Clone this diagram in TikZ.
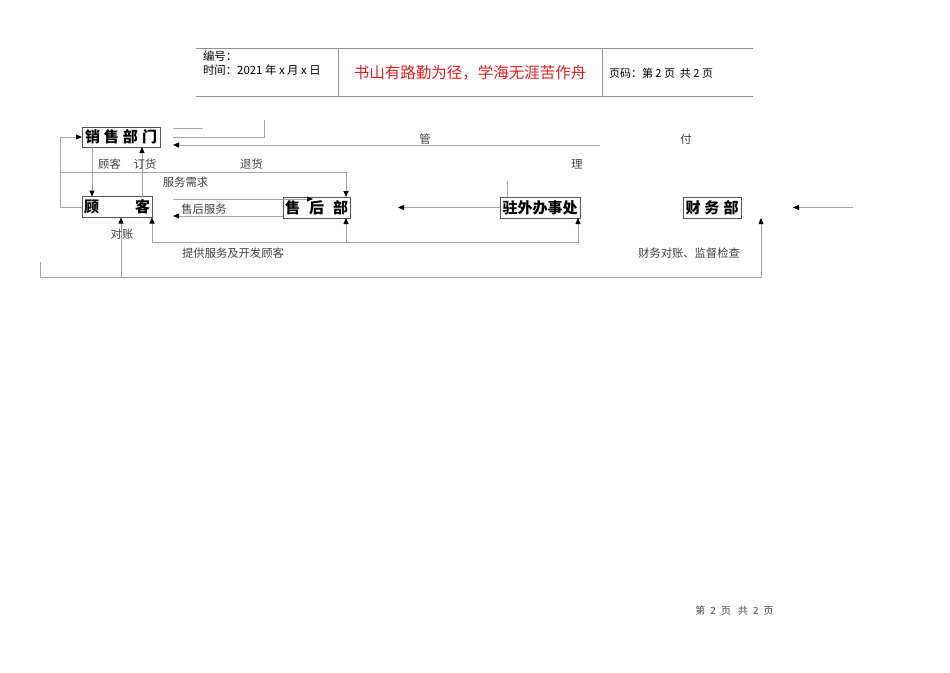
\documentclass[tikz,border=0pt]{standalone}
\usepackage{fontspec}
\newfontfamily\cjk{Noto Sans CJK SC}
\usetikzlibrary{positioning}
\usetikzlibrary{calc}
\usetikzlibrary{arrows.meta}
\definecolor{linegray}{RGB}{165,165,165}
\definecolor{boxgray}{RGB}{85,85,85}
\definecolor{titlered}{RGB}{225,30,30}
\tikzset{
	every node/.style={inner sep=0pt,outer sep=0pt},
	dept/.style={draw=boxgray,line width=0.9pt,minimum height=21pt,font=\cjk\bfseries\fontsize{15}{15}\selectfont},
	lbl/.style={font=\cjk\fontsize{11.3}{11}\selectfont,text=black!75},
	hd/.style={font=\cjk\fontsize{11.4}{11}\selectfont,anchor=west},
	link/.style={draw=linegray,line width=0.8pt},
	arr/.style={link,-{Triangle[black,length=6pt,width=5pt]}},
	rule/.style={draw=gray!85,line width=0.9pt},
}

\begin{document}
\begin{tikzpicture}[x=1pt,y=-1pt]
	\useasboundingbox (0,0) rectangle (950,672);

	% header table..............................
	\draw [rule] (196,48) -- (753,48);
	\draw [rule] (196,96) -- (753,96);
	\draw [rule] (338,48) -- (338,96);
	\draw [rule] (602,48) -- (602,96);
	\node [hd] (bianhao) at (203,56) {编号：};
	\node [hd] (shijian) at (203,70) {时间：2021 年 x 月 x 日};
	\node [font=\cjk\fontsize{15.5}{15.5}\selectfont,text=titlered] (motto) at (470,73) {书山有路勤为径，学海无涯苦作舟};
	\node [hd,font=\cjk\fontsize{11}{11}\selectfont] (yema) at (609,73) {页码：第 2 页\ \ 共 2 页};

	% departments...............................
	\node [dept,minimum width=78pt,minimum height=20pt] (xs) at (121,137) {销\hspace{4pt}售\hspace{4pt}部\hspace{4pt}门};
	\node [dept,minimum width=70pt] (gk) at (117,207) {\makebox[66pt]{顾\hfill 客}};
	\node [dept,minimum width=67pt] (sh) at (316.5,207.5) {售\hspace{9pt}后\hspace{9pt}部};
	\node [dept,minimum width=80pt] (zw) at (540,207.5) {驻外办事处};
	\node [dept,minimum width=58pt] (cw) at (712,207.5) {财\hspace{4pt}务\hspace{4pt}部};

	% free ends and corners.....................
	\coordinate (t1) at (173,128);
	\coordinate (t2) at (264,120);
	\coordinate (mr) at (600,145);
	\coordinate (rt) at (346,172);
	\coordinate (bl) at (152,242);
	\coordinate (br) at (578,242);
	\coordinate (zl) at (398,207.5);
	\coordinate (cr) at (853,207.5);
	\coordinate (cl) at (793,207.5);
	\coordinate (ll) at (40,262);
	\coordinate (lc) at (40,277);
	\coordinate (dz) at ($(gk.south west)+(39,0)$);

	% top lines...............................
	\draw [link] (t1) -- ++(30,0);
	\draw [link] (t2) |- ($(xs.east)+(13,0)$);
	\draw [arr] (mr) -- ($(xs.east)+(13,8)$);

	% sales dept <-> customer.................
	\draw [arr] ($(xs.south west)+(10,0)$) -- ($(gk.north west)+(10,0)$);
	\draw [arr] ($(gk.north west)+(60,0)$) -- ($(xs.south west)+(60,0)$);
	\draw [arr] (gk.west) -- ++(-22,0) coordinate (lp) |- (xs.west);
	\draw [arr] (lp |- rt) -- (rt) -- (rt |- sh.north);

	% customer <-> after-sales................
	\draw [arr] ($(gk.east)+(21,-8)$) -- ($(sh.west)+(30,-8.5)$);
	\draw [arr] ($(sh.west)+(0,8.5)$) -- ($(gk.east)+(21,9)$);

	% service line below......................
	\draw [arr] (bl) -- (gk.south east);
	\draw [arr] (bl) -- (br) -- (br |- zw.south);
	\draw [arr] (bl -| rt) -- (rt |- sh.south);

	% branch office...........................
	\draw [arr] (zw.west) -- (zl);
	\draw [link] ($(zw.north west)+(7,0)$) -- ++(0,-16);
	\draw [arr] (cr) -- (cl);

	% finance line............................
	\draw [arr] (ll) -- (lc) -| ($(cw.south east)+(20,0)$);
	\draw [arr] (lc -| dz) -- (dz);

	% labels..................................
	\node [lbl] (guan) at (425,139) {管};
	\node [lbl] (fu) at (686,139) {付};
	\node [lbl] (gukelbl) at (109.5,164) {顾客};
	\node [lbl] (dinghuo) at (145,164) {订货};
	\node [lbl] (tuihuo) at (251.5,164) {退货};
	\node [lbl] (li) at (577,164) {理};
	\node [lbl] (xuqiu) at (185.5,182) {服务需求};
	\node [lbl] (fuwu) at (204,209) {售后服务};
	\node [lbl] (duizhang) at (122,234) {对账};
	\node [lbl] (kaifa) at (233,253) {提供服务及开发顾客};
	\node [lbl] (jiancha) at (689,253) {财务对账、监督检查};
	\node [font=\cjk\fontsize{10}{10}\selectfont,text=black!70] (footer) at (734.5,611) {第\hspace{5pt}2\hspace{5pt}页\hspace{7pt}共\hspace{5pt}2\hspace{5pt}页};
\end{tikzpicture}
\end{document}
